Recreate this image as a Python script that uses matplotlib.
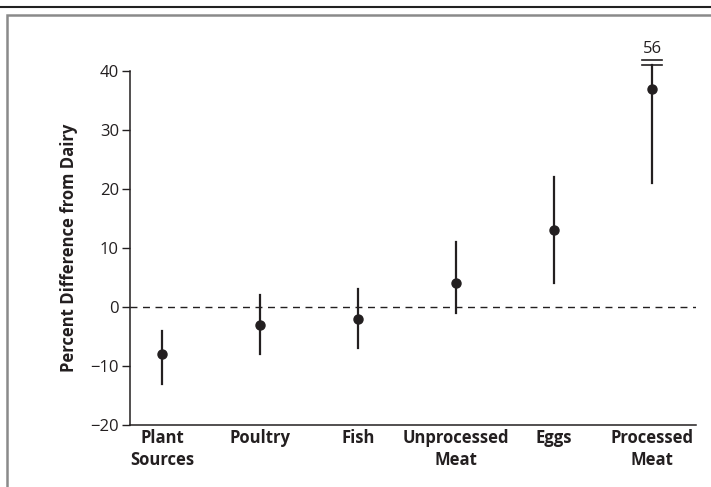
import matplotlib.pyplot as plt
from matplotlib.lines import Line2D
from matplotlib.patches import Rectangle

plt.rcParams['font.family'] = ['Open Sans', 'DejaVu Sans']

# Data
categories = ['Plant\nSources', 'Poultry', 'Fish', 'Unprocessed\nMeat', 'Eggs', 'Processed\nMeat']
estimate = [-8, -3, -2, 4, 13, 37]
ci_low = [-13, -8, -7, -1, 4, 21]
ci_high = [-4, 2, 3, 11, 22, 56]
axis_cap = 41          # whisker drawn up to here, then broken
yticks = [-20, -10, 0, 10, 20, 30, 40]

fig = plt.figure(figsize=(7.11, 4.87), dpi=100)

# outer frame: black rule on top, grey box round the panel
fig.add_artist(Line2D([0, 1], [1 - 7 / 487, 1 - 7 / 487], color='#222222', lw=1.5,
                      transform=fig.transFigure))
fig.add_artist(Rectangle((7 / 711, -0.1), 1.1, 1 - 15 / 487 + 0.1, fill=False,
                         edgecolor='#8a8a8a', lw=1.8, transform=fig.transFigure))

ax = fig.add_axes([130 / 711, 62 / 487, (696 - 130) / 711, (425 - 71) / 487])
ax.patch.set_alpha(0)

x = list(range(len(categories)))
for xi, e, lo, hi in zip(x, estimate, ci_low, ci_high):
    top = min(hi, axis_cap)
    ax.plot([xi, xi], [lo, top], color='#231f20', lw=1.6, clip_on=False, zorder=3)
    ax.plot(xi, e, 'o', color='#231f20', ms=6.5, clip_on=False, zorder=4)
    if hi > axis_cap:
        # broken whisker marker with the true upper limit
        for yb in (axis_cap, axis_cap + 0.9):
            ax.plot([xi - 0.1, xi + 0.1], [yb, yb], color='#231f20', lw=1.2,
                    clip_on=False, zorder=3)
        ax.text(xi, axis_cap + 1.3, str(hi), ha='center', va='bottom', fontsize=12,
                color='#231f20')

ax.axhline(0, color='#231f20', lw=1, ls=(0, (5, 4)), zorder=1)

ax.set_xlim(-0.327, 5.449)
ax.set_ylim(-20, 40)
ax.set_yticks(yticks)
ax.set_yticklabels([str(t).replace('-', '\u2212') for t in yticks], fontsize=12, color='#231f20')
ax.set_xticks(x)
ax.set_xticklabels(categories, fontsize=12, fontweight='bold', color='#231f20',
                   linespacing=1.3)
ax.tick_params(axis='x', length=0, pad=3)
ax.tick_params(axis='y', length=6, width=1, color='#231f20', pad=2)
ax.set_ylabel('Percent Difference from Dairy', fontsize=12, fontweight='bold',
              color='#231f20', labelpad=9)

for s in ('top', 'right'):
    ax.spines[s].set_visible(False)
for s in ('left', 'bottom'):
    ax.spines[s].set_color('#231f20')
    ax.spines[s].set_linewidth(1.1)

fig.savefig('out.png', dpi=100)
